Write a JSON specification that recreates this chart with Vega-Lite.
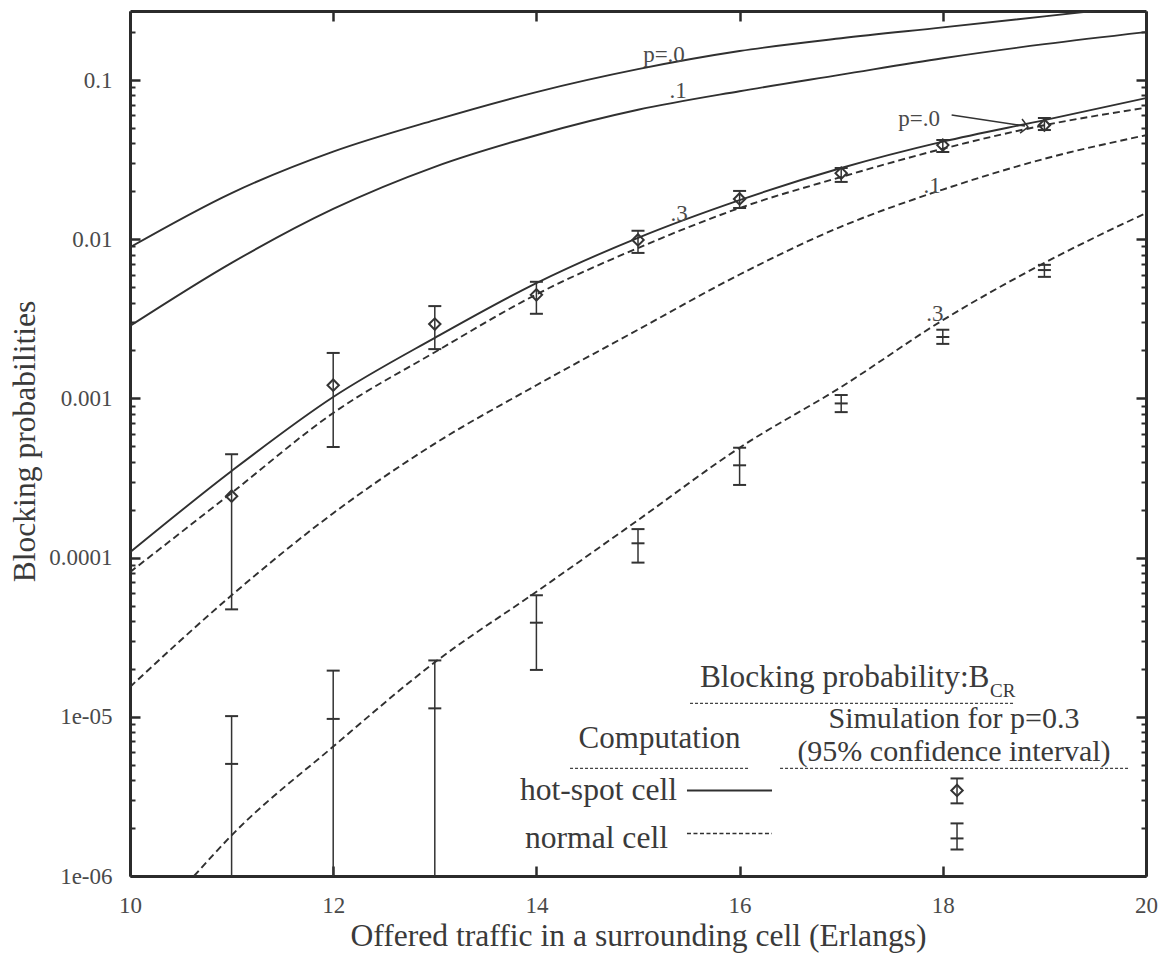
{
  "$schema": "https://vega.github.io/schema/vega-lite/v6.json",
  "width": 1016,
  "height": 865,
  "autosize": {"type": "none"},
  "padding": {"left": 130, "top": 11, "right": 20, "bottom": 83},
  "background": "white",
  "config": {
    "font": "Liberation Serif",
    "view": {"stroke": null},
    "axis": {
      "grid": false,
      "labelFont": "Liberation Serif",
      "titleFont": "Liberation Serif",
      "labelColor": "#4a4a4a",
      "titleColor": "#3a3a3a",
      "domainColor": "#2b2b2b",
      "tickColor": "#2b2b2b",
      "labelFontSize": 23,
      "titleFontSize": 31.6,
      "titleFontWeight": "normal",
      "domainWidth": 3,
      "tickWidth": 2.5,
      "labelFlush": false,
      "labelOverlap": false
    },
    "text": {"font": "Liberation Serif"}
  },
  "datasets": {
    "hot_curves": [
      {"p": "0", "x": 10, "y": 0.0089}, {"p": "0", "x": 11, "y": 0.0195}, {"p": "0", "x": 12, "y": 0.0355}, {"p": "0", "x": 13, "y": 0.056}, {"p": "0", "x": 14, "y": 0.084}, {"p": "0", "x": 15, "y": 0.117}, {"p": "0", "x": 16, "y": 0.152}, {"p": "0", "x": 17, "y": 0.183}, {"p": "0", "x": 18, "y": 0.214}, {"p": "0", "x": 19, "y": 0.251}, {"p": "0", "x": 20, "y": 0.295},
      {"p": "0.1", "x": 10, "y": 0.00285}, {"p": "0.1", "x": 11, "y": 0.0071}, {"p": "0.1", "x": 12, "y": 0.0155}, {"p": "0.1", "x": 13, "y": 0.0285}, {"p": "0.1", "x": 14, "y": 0.045}, {"p": "0.1", "x": 15, "y": 0.065}, {"p": "0.1", "x": 16, "y": 0.085}, {"p": "0.1", "x": 17, "y": 0.108}, {"p": "0.1", "x": 18, "y": 0.137}, {"p": "0.1", "x": 19, "y": 0.168}, {"p": "0.1", "x": 20, "y": 0.2},
      {"p": "0.3", "x": 10, "y": 0.000108}, {"p": "0.3", "x": 11, "y": 0.00035}, {"p": "0.3", "x": 12, "y": 0.00102}, {"p": "0.3", "x": 13, "y": 0.0024}, {"p": "0.3", "x": 14, "y": 0.0053}, {"p": "0.3", "x": 15, "y": 0.0102}, {"p": "0.3", "x": 16, "y": 0.0176}, {"p": "0.3", "x": 17, "y": 0.028}, {"p": "0.3", "x": 18, "y": 0.041}, {"p": "0.3", "x": 19, "y": 0.056}, {"p": "0.3", "x": 20, "y": 0.077}
    ],
    "normal_curves": [
      {"p": "0", "x": 10, "y": 0.000081}, {"p": "0", "x": 11, "y": 0.000255}, {"p": "0", "x": 12, "y": 0.00081}, {"p": "0", "x": 13, "y": 0.00195}, {"p": "0", "x": 14, "y": 0.0045}, {"p": "0", "x": 15, "y": 0.0088}, {"p": "0", "x": 16, "y": 0.0157}, {"p": "0", "x": 17, "y": 0.0246}, {"p": "0", "x": 18, "y": 0.037}, {"p": "0", "x": 19, "y": 0.052}, {"p": "0", "x": 20, "y": 0.067},
      {"p": "0.1", "x": 10, "y": 0.0000154}, {"p": "0.1", "x": 11, "y": 0.000058}, {"p": "0.1", "x": 12, "y": 0.00019}, {"p": "0.1", "x": 13, "y": 0.00052}, {"p": "0.1", "x": 14, "y": 0.00121}, {"p": "0.1", "x": 15, "y": 0.0027}, {"p": "0.1", "x": 16, "y": 0.006}, {"p": "0.1", "x": 17, "y": 0.012}, {"p": "0.1", "x": 18, "y": 0.0205}, {"p": "0.1", "x": 19, "y": 0.032}, {"p": "0.1", "x": 20, "y": 0.045},
      {"p": "0.3", "x": 10.63, "y": 0.000001}, {"p": "0.3", "x": 11, "y": 0.0000018}, {"p": "0.3", "x": 12, "y": 0.0000065}, {"p": "0.3", "x": 13, "y": 0.000022}, {"p": "0.3", "x": 14, "y": 0.000061}, {"p": "0.3", "x": 15, "y": 0.000172}, {"p": "0.3", "x": 16, "y": 0.00049}, {"p": "0.3", "x": 17, "y": 0.00118}, {"p": "0.3", "x": 18, "y": 0.0031}, {"p": "0.3", "x": 19, "y": 0.0071}, {"p": "0.3", "x": 20, "y": 0.0146}
    ],
    "hot_sim": [
      {"x": 11, "mid": 0.000243, "lo": 0.0000473, "hi": 0.000446},
      {"x": 12, "mid": 0.00121, "lo": 0.000495, "hi": 0.00193},
      {"x": 13, "mid": 0.00293, "lo": 0.00204, "hi": 0.0038},
      {"x": 14, "mid": 0.00447, "lo": 0.0034, "hi": 0.0054},
      {"x": 15, "mid": 0.0099, "lo": 0.0082, "hi": 0.0113},
      {"x": 16, "mid": 0.0179, "lo": 0.0157, "hi": 0.0201},
      {"x": 17, "mid": 0.026, "lo": 0.0229, "hi": 0.028},
      {"x": 18, "mid": 0.039, "lo": 0.0353, "hi": 0.042},
      {"x": 19, "mid": 0.052, "lo": 0.0485, "hi": 0.0577},
      {"x": 18.14, "mid": 0.000003446, "lo": 0.00000286, "hi": 0.0000041}
    ],
    "normal_sim": [
      {"x": 11, "mid": 0.00000506, "lo": 0.0000001, "hi": 0.0000101},
      {"x": 12, "mid": 0.0000097, "lo": 0.0000001, "hi": 0.0000195},
      {"x": 13, "mid": 0.0000113, "lo": 0.0000001, "hi": 0.0000226},
      {"x": 14, "mid": 0.000039, "lo": 0.0000197, "hi": 0.000058},
      {"x": 15, "mid": 0.000123, "lo": 0.000093, "hi": 0.000151},
      {"x": 16, "mid": 0.00038, "lo": 0.000286, "hi": 0.00049},
      {"x": 17, "mid": 0.00093, "lo": 0.00082, "hi": 0.00105},
      {"x": 18, "mid": 0.00243, "lo": 0.0022, "hi": 0.0027},
      {"x": 19, "mid": 0.0064, "lo": 0.0058, "hi": 0.0069},
      {"x": 18.14, "mid": 0.000001722, "lo": 0.000001467, "hi": 0.00000214}
    ],
    "curve_labels": [
      {"label": "p=.0", "x": 15.256, "y": 0.1297},
      {"label": ".1", "x": 15.394, "y": 0.077},
      {"label": ".3", "x": 15.404, "y": 0.013},
      {"label": "p=.0", "x": 17.766, "y": 0.0514},
      {"label": ".1", "x": 17.894, "y": 0.0195},
      {"label": ".3", "x": 17.923, "y": 0.00306}
    ],
    "legend_center": [
      {"label": "Computation", "x": 15.212, "y": 0.00000633}
    ],
    "legend_sim": [
      {"label": ["Simulation for p=0.3", "(95% confidence interval)"], "x": 18.11, "y": 0.000008456}
    ],
    "legend_right": [
      {"label": "hot-spot cell", "x": 15.384, "y": 0.000002981},
      {"label": "normal cell", "x": 15.295, "y": 0.00000151}
    ],
    "legend_head": [
      {"label": "Blocking probability:B", "x": 15.61, "y": 0.0000153}
    ],
    "legend_sub": [
      {"label": "CR", "x": 18.465, "y": 0.00001324}
    ],
    "underlines": [
      {"x": 15.512, "x2": 18.711, "y": 0.00001214},
      {"x": 14.331, "x2": 16.102, "y": 0.000004738},
      {"x": 16.398, "x2": 19.823, "y": 0.000004738}
    ],
    "legend_solid": [
      {"x": 15.482, "x2": 16.319, "y": 0.000003446}
    ],
    "legend_dashed": [
      {"x": 15.482, "x2": 16.319, "y": 0.000001849}
    ],
    "arrow": [
      {"x": 18.087, "y": 0.06026, "x2": 18.809, "y2": 0.05139}
    ],
    "arrow_head": [
      {"x": 18.839, "y": 0.05066}
    ]
  },
  "resolve": {
    "scale": {"x": "shared", "y": "shared"},
    "axis": {"x": "independent", "y": "independent"}
  },
  "layer": [
    {
      "data": {"name": "hot_curves"},
      "mark": {"type": "line", "clip": true, "interpolate": "monotone", "color": "#303030", "strokeWidth": 1.9},
      "encoding": {
        "x": {"field": "x", "type": "quantitative",
          "scale": {"domain": [10, 20], "nice": false, "zero": false},
          "axis": {"orient": "bottom", "values": [10, 12, 14, 16, 18, 20], "format": "d", "tickSize": -10, "labelPadding": 46, "labelBaseline": "alphabetic", "labelFont": "Liberation Serif", "title": "Offered traffic in a surrounding cell (Erlangs)", "titleY": 69, "titleBaseline": "alphabetic"}},
        "y": {"field": "y", "type": "quantitative",
          "scale": {"type": "log", "domain": [0.000001, 0.2713], "nice": false},
          "axis": {"orient": "left", "values": [0.000001, 0.00001, 0.0001, 0.001, 0.01, 0.1], "labelExpr": "['1e-06','1e-05','0.0001','0.001','0.01','0.1'][round(log(datum.value)/LN10)+6]", "tickSize": -10, "labelPadding": 28, "labelFont": "Liberation Serif", "title": "Blocking probabilities", "titleX": -96, "titleY": 430, "titleAngle": -90, "titleAlign": "center", "titleBaseline": "alphabetic"}},
        "detail": {"field": "p"}
      }
    },
    {
      "data": {"name": "normal_curves"},
      "mark": {"type": "line", "clip": true, "interpolate": "monotone", "color": "#303030", "strokeWidth": 1.9, "strokeDash": [7, 4]},
      "encoding": {
        "x": {"field": "x", "type": "quantitative",
          "scale": {"domain": [10, 20], "nice": false, "zero": false},
          "axis": {"orient": "top", "values": [10, 12, 14, 16, 18, 20], "tickSize": -10, "labels": false, "title": null}},
        "y": {"field": "y", "type": "quantitative",
          "scale": {"type": "log", "domain": [0.000001, 0.2713], "nice": false},
          "axis": {"orient": "left", "values": [0.000002, 0.000003, 0.000004, 0.000005, 0.000006, 0.000007, 0.000008, 0.000009, 0.00002, 0.00003, 0.00004, 0.00005, 0.00006, 0.00007, 0.00008, 0.00009, 0.0002, 0.0003, 0.0004, 0.0005, 0.0006, 0.0007, 0.0008, 0.0009, 0.002, 0.003, 0.004, 0.005, 0.006, 0.007, 0.008, 0.009, 0.02, 0.03, 0.04, 0.05, 0.06, 0.07, 0.08, 0.09, 0.2], "tickSize": -5, "tickWidth": 2, "labels": false, "domain": false, "title": null}},
        "detail": {"field": "p"}
      }
    },
    {
      "data": {"name": "hot_sim"},
      "mark": {"type": "rule", "clip": true, "color": "#333333", "strokeWidth": 1.5},
      "encoding": {
        "x": {"field": "x", "type": "quantitative", "scale": {"domain": [10, 20], "nice": false, "zero": false}, "axis": null},
        "y": {"field": "lo", "type": "quantitative",
          "scale": {"type": "log", "domain": [0.000001, 0.2713], "nice": false},
          "axis": {"orient": "right", "values": [0.000001, 0.00001, 0.0001, 0.001, 0.01, 0.1], "tickSize": -10, "labels": false, "title": null}},
        "y2": {"field": "hi"}
      }
    },
    {
      "data": {"name": "normal_sim"},
      "mark": {"type": "rule", "clip": true, "color": "#333333", "strokeWidth": 1.5},
      "encoding": {
        "x": {"field": "x", "type": "quantitative", "scale": {"domain": [10, 20], "nice": false, "zero": false}, "axis": null},
        "y": {"field": "lo", "type": "quantitative",
          "scale": {"type": "log", "domain": [0.000001, 0.2713], "nice": false},
          "axis": {"orient": "right", "values": [0.000002, 0.000003, 0.000004, 0.000005, 0.000006, 0.000007, 0.000008, 0.000009, 0.00002, 0.00003, 0.00004, 0.00005, 0.00006, 0.00007, 0.00008, 0.00009, 0.0002, 0.0003, 0.0004, 0.0005, 0.0006, 0.0007, 0.0008, 0.0009, 0.002, 0.003, 0.004, 0.005, 0.006, 0.007, 0.008, 0.009, 0.02, 0.03, 0.04, 0.05, 0.06, 0.07, 0.08, 0.09, 0.2], "tickSize": -5, "tickWidth": 2, "labels": false, "domain": false, "title": null}},
        "y2": {"field": "hi"}
      }
    },
    {
      "data": {"name": "hot_sim"},
      "layer": [
        {"mark": {"type": "tick", "orient": "horizontal", "clip": true, "color": "#333333", "size": 13, "thickness": 2, "opacity": 1},
         "encoding": {"y": {"field": "hi", "type": "quantitative", "scale": {"type": "log", "domain": [0.000001, 0.2713], "nice": false}, "axis": null}}},
        {"mark": {"type": "tick", "orient": "horizontal", "clip": true, "color": "#333333", "size": 13, "thickness": 2, "opacity": 1},
         "encoding": {"y": {"field": "lo", "type": "quantitative", "scale": {"type": "log", "domain": [0.000001, 0.2713], "nice": false}, "axis": null}}},
        {"mark": {"type": "point", "shape": "diamond", "filled": false, "color": "#333333", "size": 130, "strokeWidth": 2, "opacity": 1},
         "encoding": {"y": {"field": "mid", "type": "quantitative", "scale": {"type": "log", "domain": [0.000001, 0.2713], "nice": false}, "axis": null}}}
      ],
      "encoding": {
        "x": {"field": "x", "type": "quantitative", "scale": {"domain": [10, 20], "nice": false, "zero": false}, "axis": null}
      }
    },
    {
      "data": {"name": "normal_sim"},
      "layer": [
        {"mark": {"type": "tick", "orient": "horizontal", "clip": true, "color": "#333333", "size": 13, "thickness": 2, "opacity": 1},
         "encoding": {"y": {"field": "hi", "type": "quantitative", "scale": {"type": "log", "domain": [0.000001, 0.2713], "nice": false}, "axis": null}}},
        {"mark": {"type": "tick", "orient": "horizontal", "clip": true, "color": "#333333", "size": 13, "thickness": 2, "opacity": 1},
         "encoding": {"y": {"field": "lo", "type": "quantitative", "scale": {"type": "log", "domain": [0.000001, 0.2713], "nice": false}, "axis": null}}},
        {"mark": {"type": "tick", "orient": "horizontal", "clip": true, "color": "#333333", "size": 13, "thickness": 2, "opacity": 1},
         "encoding": {"y": {"field": "mid", "type": "quantitative", "scale": {"type": "log", "domain": [0.000001, 0.2713], "nice": false}, "axis": null}}}
      ],
      "encoding": {
        "x": {"field": "x", "type": "quantitative", "scale": {"domain": [10, 20], "nice": false, "zero": false}, "axis": null}
      }
    },
    {
      "data": {"name": "curve_labels"},
      "mark": {"type": "text", "font": "Liberation Serif", "fontSize": 23, "color": "#4a4a4a", "align": "center", "baseline": "alphabetic"},
      "encoding": {
        "x": {"field": "x", "type": "quantitative", "scale": {"domain": [10, 20], "nice": false, "zero": false}, "axis": null},
        "y": {"field": "y", "type": "quantitative", "scale": {"type": "log", "domain": [0.000001, 0.2713], "nice": false}, "axis": null},
        "text": {"field": "label"}
      }
    },
    {
      "data": {"name": "legend_center"},
      "mark": {"type": "text", "font": "Liberation Serif", "fontSize": 31, "color": "#3a3a3a", "align": "center", "baseline": "alphabetic"},
      "encoding": {
        "x": {"field": "x", "type": "quantitative", "scale": {"domain": [10, 20], "nice": false, "zero": false}, "axis": null},
        "y": {"field": "y", "type": "quantitative", "scale": {"type": "log", "domain": [0.000001, 0.2713], "nice": false}, "axis": null},
        "text": {"field": "label"}
      }
    },
    {
      "data": {"name": "legend_sim"},
      "mark": {"type": "text", "font": "Liberation Serif", "fontSize": 30, "lineHeight": 33, "color": "#3a3a3a", "align": "center", "baseline": "alphabetic"},
      "encoding": {
        "x": {"field": "x", "type": "quantitative", "scale": {"domain": [10, 20], "nice": false, "zero": false}, "axis": null},
        "y": {"field": "y", "type": "quantitative", "scale": {"type": "log", "domain": [0.000001, 0.2713], "nice": false}, "axis": null},
        "text": {"field": "label"}
      }
    },
    {
      "data": {"name": "legend_right"},
      "mark": {"type": "text", "font": "Liberation Serif", "fontSize": 31.6, "color": "#3a3a3a", "align": "right", "baseline": "alphabetic"},
      "encoding": {
        "x": {"field": "x", "type": "quantitative", "scale": {"domain": [10, 20], "nice": false, "zero": false}, "axis": null},
        "y": {"field": "y", "type": "quantitative", "scale": {"type": "log", "domain": [0.000001, 0.2713], "nice": false}, "axis": null},
        "text": {"field": "label"}
      }
    },
    {
      "data": {"name": "legend_head"},
      "mark": {"type": "text", "font": "Liberation Serif", "fontSize": 31.3, "color": "#3a3a3a", "align": "left", "baseline": "alphabetic"},
      "encoding": {
        "x": {"field": "x", "type": "quantitative", "scale": {"domain": [10, 20], "nice": false, "zero": false}, "axis": null},
        "y": {"field": "y", "type": "quantitative", "scale": {"type": "log", "domain": [0.000001, 0.2713], "nice": false}, "axis": null},
        "text": {"field": "label"}
      }
    },
    {
      "data": {"name": "legend_sub"},
      "mark": {"type": "text", "font": "Liberation Serif", "fontSize": 19, "color": "#3a3a3a", "align": "left", "baseline": "alphabetic"},
      "encoding": {
        "x": {"field": "x", "type": "quantitative", "scale": {"domain": [10, 20], "nice": false, "zero": false}, "axis": null},
        "y": {"field": "y", "type": "quantitative", "scale": {"type": "log", "domain": [0.000001, 0.2713], "nice": false}, "axis": null},
        "text": {"field": "label"}
      }
    },
    {
      "data": {"name": "underlines"},
      "mark": {"type": "rule", "color": "#444444", "strokeWidth": 1.2, "strokeDash": [3, 2]},
      "encoding": {
        "x": {"field": "x", "type": "quantitative", "scale": {"domain": [10, 20], "nice": false, "zero": false}, "axis": null},
        "x2": {"field": "x2"},
        "y": {"field": "y", "type": "quantitative", "scale": {"type": "log", "domain": [0.000001, 0.2713], "nice": false}, "axis": null}
      }
    },
    {
      "data": {"name": "legend_solid"},
      "mark": {"type": "rule", "color": "#303030", "strokeWidth": 1.9},
      "encoding": {
        "x": {"field": "x", "type": "quantitative", "scale": {"domain": [10, 20], "nice": false, "zero": false}, "axis": null},
        "x2": {"field": "x2"},
        "y": {"field": "y", "type": "quantitative", "scale": {"type": "log", "domain": [0.000001, 0.2713], "nice": false}, "axis": null}
      }
    },
    {
      "data": {"name": "legend_dashed"},
      "mark": {"type": "rule", "color": "#303030", "strokeWidth": 1.5, "strokeDash": [4, 2.5]},
      "encoding": {
        "x": {"field": "x", "type": "quantitative", "scale": {"domain": [10, 20], "nice": false, "zero": false}, "axis": null},
        "x2": {"field": "x2"},
        "y": {"field": "y", "type": "quantitative", "scale": {"type": "log", "domain": [0.000001, 0.2713], "nice": false}, "axis": null}
      }
    },
    {
      "data": {"name": "arrow"},
      "mark": {"type": "rule", "color": "#333333", "strokeWidth": 1.6},
      "encoding": {
        "x": {"field": "x", "type": "quantitative", "scale": {"domain": [10, 20], "nice": false, "zero": false}, "axis": null},
        "x2": {"field": "x2"},
        "y": {"field": "y", "type": "quantitative", "scale": {"type": "log", "domain": [0.000001, 0.2713], "nice": false}, "axis": null},
        "y2": {"field": "y2"}
      }
    },
    {
      "data": {"name": "arrow_head"},
      "mark": {"type": "point", "shape": "M-1,-1L0,0L-1,1", "filled": false, "color": "#333333", "size": 200, "strokeWidth": 1.5, "opacity": 1, "angle": 8},
      "encoding": {
        "x": {"field": "x", "type": "quantitative", "scale": {"domain": [10, 20], "nice": false, "zero": false}, "axis": null},
        "y": {"field": "y", "type": "quantitative", "scale": {"type": "log", "domain": [0.000001, 0.2713], "nice": false}, "axis": null}
      }
    }
  ]
}
